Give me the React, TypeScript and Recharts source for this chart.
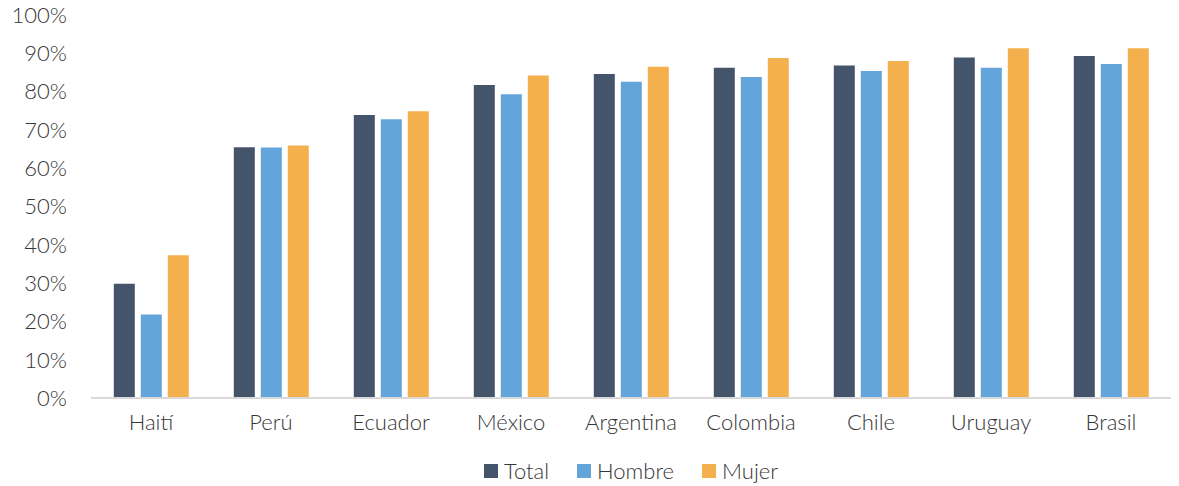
import React from "react";
import {
  BarChart,
  Bar,
  XAxis,
  YAxis,
} from "recharts";

const countries = ["Haití", "Perú", "Ecuador", "México", "Argentina", "Colombia", "Chile", "Uruguay", "Brasil"];
const total = [29.8, 65.5, 73.9, 81.7, 84.6, 86.2, 86.8, 88.9, 89.3];
const hombre = [21.8, 65.4, 72.8, 79.3, 82.6, 83.8, 85.4, 86.2, 87.2];
const mujer = [37.3, 65.9, 74.9, 84.2, 86.5, 88.8, 88.0, 91.3, 91.3];
const yTicks = [0, 10, 20, 30, 40, 50, 60, 70, 80, 90, 100];

const series = [
  { key: "total", name: "Total", color: "#44546A" },
  { key: "hombre", name: "Hombre", color: "#63A5DA" },
  { key: "mujer", name: "Mujer", color: "#F5B04E" },
];

const data = countries.map((c, i) => ({
  country: c,
  total: total[i],
  hombre: hombre[i],
  mujer: mujer[i],
}));

const FONT = "Lato, 'Open Sans', sans-serif";
const TEXT = "#363636";

export default function App() {
  return (
    <div style={{ position: "absolute", left: 0, top: 0, width: 1179, height: 486, background: "#fff" }}>
      <BarChart
        width={1179}
        height={486}
        data={data}
        margin={{ top: 15, right: 8, left: 0, bottom: 48 }}
        barCategoryGap="19%"
        barGap={6}
      >
        <XAxis
          dataKey="country"
          axisLine={{ stroke: "#d9d9d9", strokeWidth: 2 }}
          tickLine={false}
          tickSize={0}
          tickMargin={16}
          height={40}
          tick={{ fill: TEXT, fontSize: 22, fontFamily: FONT, fontWeight: 300 }}
        />
        <YAxis
          domain={[0, 100]}
          ticks={yTicks}
          interval={0}
          tickFormatter={(v: number) => `${v}%`}
          axisLine={false}
          tickLine={false}
          tickSize={0}
          tickMargin={24}
          width={91}
          tick={{ fill: TEXT, fontSize: 22, fontFamily: FONT, fontWeight: 300 }}
        />
        {series.map((s) => (
          <Bar key={s.key} dataKey={s.key} name={s.name} fill={s.color} isAnimationActive={false} />
        ))}
      </BarChart>
      <div
        style={{
          position: "absolute",
          top: 458,
          left: 91,
          width: 1080,
          display: "flex",
          justifyContent: "center",
          fontFamily: FONT,
          fontWeight: 300,
          fontSize: 22,
          color: TEXT,
          lineHeight: "26px",
        }}
      >
        {series.map((s) => (
          <div key={s.key} style={{ display: "flex", alignItems: "center", margin: "0 14px" }}>
            <span style={{ width: 14, height: 14, background: s.color, display: "inline-block", marginRight: 6 }} />
            <span>{s.name}</span>
          </div>
        ))}
      </div>
    </div>
  );
}
